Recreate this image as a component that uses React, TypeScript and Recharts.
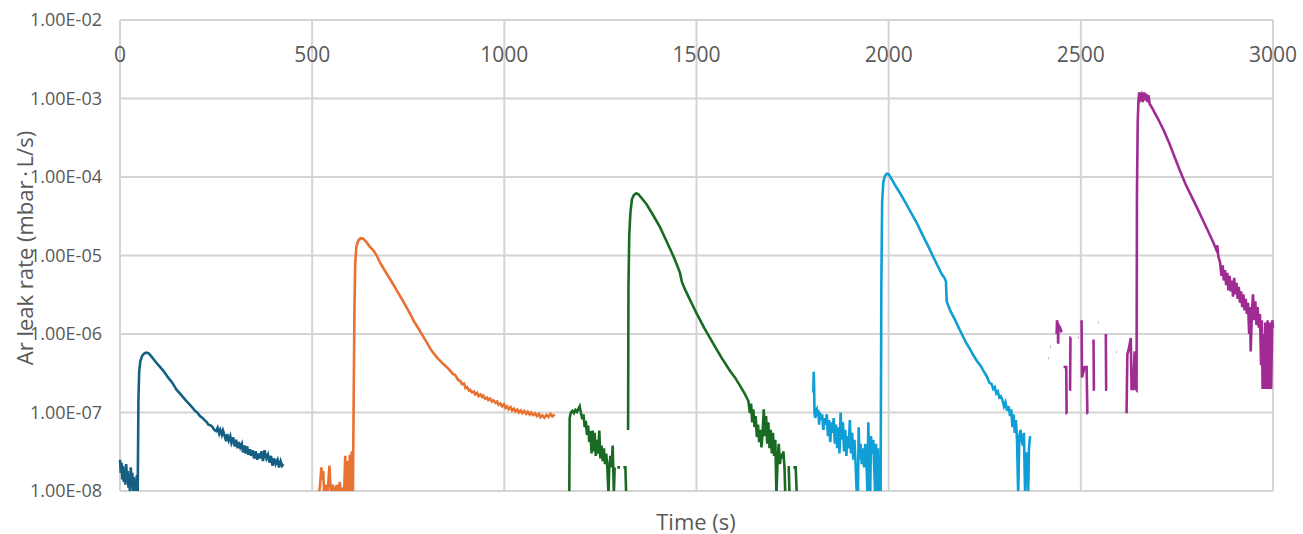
import React from "react";
import { LineChart, Line, XAxis, YAxis, CartesianGrid } from "recharts";

type Pt = [number, number | null];

// time ticks (s) on the top axis, decades on the log axis
const xTicks = [0, 500, 1000, 1500, 2000, 2500, 3000];
const yTicks = [1e-8, 1e-7, 1e-6, 1e-5, 1e-4, 1e-3, 1e-2];

// run 1 (teal)
const run1: Pt[] = [
  [0, 2.5e-8], [2, 1.7e-8], [4, 2.3e-8], [6, 1.4e-8], [8, 2.1e-8], [10, 1.3e-8], [12, 1.9e-8],
  [14, 1.2e-8], [16, 2.2e-8], [18, 1.5e-8], [20, 1.8e-8], [22, 1.1e-8], [24, 1.6e-8], [26, 9e-9],
  [28, 2.0e-8], [30, 1.3e-8], [32, 1.7e-8], [34, 1.0e-8], [36, 1.5e-8], [38, 9e-9], [40, 1.3e-8],
  [42, 1.1e-8], [44, 1.6e-8], [46, 9e-9], [48, 1.5e-7], [50, 3.4e-7], [53, 4.5e-7], [57, 5.2e-7],
  [62, 5.6e-7], [68, 5.8e-7], [74, 5.7e-7], [80, 5.3e-7], [90, 4.6e-7], [100, 4.0e-7], [113, 3.4e-7],
  [125, 2.8e-7], [136, 2.4e-7], [147, 1.95e-7], [158, 1.7e-7], [170, 1.45e-7], [182, 1.25e-7],
  [189, 1.15e-7], [195, 1.05e-7], [201, 1.0e-7], [208, 9.0e-8], [214, 8.6e-8], [220, 8.0e-8],
  [225, 7.6e-8], [230, 7.0e-8], [235, 6.9e-8], [240, 6.6e-8], [245, 6.0e-8], [250, 5.8e-8],
  [254, 6.4e-8], [258, 5.4e-8], [261, 6.0e-8], [265, 5.2e-8], [268, 5.9e-8], [273, 4.9e-8],
  [276, 4.3e-8], [279, 5.3e-8], [283, 4.4e-8], [287, 5.0e-8], [290, 4.1e-8], [295, 4.8e-8],
  [298, 3.7e-8], [302, 4.5e-8], [306, 3.5e-8], [309, 4.2e-8], [313, 3.6e-8], [317, 4.0e-8],
  [320, 3.1e-8], [324, 3.8e-8], [327, 3.0e-8], [331, 3.7e-8], [334, 2.9e-8], [338, 3.4e-8],
  [341, 2.8e-8], [345, 3.3e-8], [349, 2.6e-8], [353, 3.2e-8], [357, 2.5e-8], [361, 3.0e-8],
  [364, 2.6e-8], [368, 3.2e-8], [372, 2.4e-8], [376, 3.3e-8], [381, 2.6e-8], [385, 2.9e-8],
  [389, 2.3e-8], [393, 2.8e-8], [397, 2.1e-8], [401, 2.6e-8], [405, 2.2e-8], [410, 2.5e-8],
  [414, 2.0e-8], [418, 2.4e-8], [422, 2.1e-8], [425, 2.2e-8],
];

// run 2 (orange)
const run2: Pt[] = [
  [516, 9e-9], [520, 1.1e-8], [524, 2.0e-8], [526, 1.4e-8], [529, 1.8e-8], [531, 9e-9], [536, 1.2e-8],
  [540, 9e-9], [545, 2.1e-8], [547, 1.3e-8], [550, 9e-9], [553, 1.2e-8], [556, 1.1e-8], [559, 9e-9],
  [564, 1.2e-8], [567, 9e-9], [572, 1.3e-8], [575, 9e-9], [580, 1.1e-8], [583, 9e-9], [586, 2.8e-8],
  [588, 9e-9], [592, 2.4e-8], [594, 9e-9], [598, 2.9e-8], [600, 9e-9], [603, 3.2e-8], [606, 9e-9],
  [608, 1.5e-7], [610, 2.0e-6], [612, 8.0e-6], [615, 1.3e-5], [620, 1.55e-5], [626, 1.66e-5],
  [632, 1.65e-5], [640, 1.5e-5], [650, 1.3e-5], [660, 1.15e-5], [668, 1.0e-5], [676, 8.2e-6],
  [690, 6.3e-6], [705, 4.8e-6], [720, 3.6e-6], [735, 2.7e-6], [750, 2.0e-6], [765, 1.45e-6],
  [780, 1.1e-6], [795, 8.3e-7], [810, 6.2e-7], [825, 5.0e-7], [840, 4.2e-7], [855, 3.6e-7],
  [866, 3.1e-7], [872, 3.0e-7], [880, 2.6e-7], [886, 2.5e-7], [890, 2.3e-7], [895, 2.35e-7],
  [899, 2.05e-7], [903, 2.1e-7], [908, 1.9e-7], [911, 1.95e-7], [916, 1.8e-7], [921, 1.85e-7],
  [924, 1.7e-7], [929, 1.78e-7], [933, 1.62e-7], [938, 1.7e-7], [942, 1.58e-7], [945, 1.64e-7],
  [950, 1.5e-7], [955, 1.55e-7], [958, 1.44e-7], [963, 1.5e-7], [968, 1.38e-7], [972, 1.43e-7],
  [977, 1.33e-7], [981, 1.38e-7], [985, 1.26e-7], [990, 1.3e-7], [994, 1.2e-7], [999, 1.27e-7],
  [1003, 1.15e-7], [1007, 1.2e-7], [1011, 1.1e-7], [1016, 1.17e-7], [1020, 1.06e-7], [1025, 1.12e-7],
  [1029, 1.03e-7], [1034, 1.09e-7], [1038, 1.0e-7], [1043, 1.06e-7], [1047, 9.8e-8], [1052, 1.04e-7],
  [1057, 9.6e-8], [1061, 1.02e-7], [1066, 9.4e-8], [1070, 1.0e-7], [1075, 9.3e-8], [1080, 9.8e-8],
  [1085, 9.0e-8], [1090, 9.6e-8], [1094, 8.7e-8], [1099, 9.2e-8], [1104, 8.6e-8], [1110, 9.3e-8],
  [1115, 8.8e-8], [1120, 9.6e-8], [1125, 8.9e-8], [1131, 9.4e-8],
];

// run 3 (green)
const run3: Pt[] = [
  [1169, 9e-9], [1170, 8.5e-8], [1173, 1.0e-7], [1177, 1.05e-7], [1181, 9.8e-8], [1185, 1.08e-7],
  [1189, 1.02e-7], [1193, 1.12e-7], [1196, 1.2e-7], [1199, 1.0e-7], [1203, 8.2e-8], [1206, 9.5e-8],
  [1209, 6.5e-8], [1212, 7.8e-8], [1215, 5.2e-8], [1218, 6.8e-8], [1221, 4.2e-8], [1224, 5.8e-8],
  [1227, 3.0e-8], [1230, 5.9e-8], [1232, 3.2e-8], [1235, 5.5e-8], [1238, 2.8e-8], [1241, 4.5e-8],
  [1244, 3.0e-8], [1247, 5.9e-8], [1250, 2.6e-8], [1253, 3.8e-8], [1256, 2.4e-8], [1259, 3.5e-8],
  [1262, 2.2e-8], [1265, 3.0e-8], [1268, 2.0e-8], [1271, 9e-9], [1273, 2.0e-8], [1276, 2.8e-8],
  [1279, 2.0e-8], [1282, 3.8e-8], [1285, 9e-9], [1287, 2.0e-8], [1289, null], [1294, 2.0e-8],
  [1301, 2.0e-8], [1304, null], [1310, 2.0e-8], [1315, 2.0e-8], [1317, 9e-9], [1319, null],
  [1322, 6.0e-8], [1323, 4.0e-6], [1325, 1.8e-5], [1328, 3.5e-5], [1332, 5.2e-5], [1337, 5.9e-5],
  [1343, 6.2e-5], [1349, 6.0e-5], [1357, 5.4e-5], [1370, 4.5e-5], [1385, 3.4e-5], [1405, 2.3e-5],
  [1420, 1.6e-5], [1440, 9.8e-6], [1452, 7.0e-6], [1457, 6.0e-6], [1462, 4.6e-6], [1470, 3.7e-6],
  [1485, 2.6e-6], [1501, 1.8e-6], [1520, 1.2e-6], [1544, 7.5e-7], [1565, 5.0e-7], [1587, 3.4e-7],
  [1600, 2.8e-7], [1613, 2.2e-7], [1625, 1.75e-7], [1635, 1.4e-7], [1639, 9.8e-8], [1642, 1.3e-7],
  [1645, 7.5e-8], [1648, 1.1e-7], [1651, 6.5e-8], [1654, 9.0e-8], [1657, 4.9e-8], [1660, 7.0e-8],
  [1663, 4.2e-8], [1666, 6.0e-8], [1669, 3.6e-8], [1672, 5.5e-8], [1675, 1.1e-7], [1678, 5.0e-8],
  [1681, 9.0e-8], [1684, 4.0e-8], [1687, 7.5e-8], [1690, 3.5e-8], [1693, 6.0e-8], [1696, 3.0e-8],
  [1699, 5.5e-8], [1702, 2.8e-8], [1705, 4.5e-8], [1708, 9e-9], [1711, 2.5e-8], [1714, 4.0e-8],
  [1717, 2.2e-8], [1720, 3.0e-8], [1723, 2.6e-8], [1726, 3.2e-8], [1729, 2.0e-8], [1731, 9e-9],
  [1733, null], [1737, 2.0e-8], [1740, 2.0e-8], [1742, 9e-9], [1744, null], [1752, 2.0e-8],
  [1758, 2.0e-8], [1761, 9e-9],
];

// run 4 (blue)
const run4: Pt[] = [
  [1804, 1.8e-7], [1805, 3.3e-7], [1806, 2.2e-7], [1807, 1.0e-7], [1809, 8.5e-8], [1811, 1.05e-7],
  [1813, 1.1e-7], [1815, 9.0e-8], [1817, 1.08e-7], [1819, 7.0e-8], [1821, 1.0e-7], [1824, 8.0e-8],
  [1827, 9.5e-8], [1830, 6.0e-8], [1833, 8.5e-8], [1836, 7.0e-8], [1839, 9.5e-8], [1842, 5.0e-8],
  [1845, 8.0e-8], [1848, 4.2e-8], [1851, 7.5e-8], [1854, 5.5e-8], [1857, 8.5e-8], [1860, 4.0e-8],
  [1863, 7.0e-8], [1866, 3.5e-8], [1869, 6.5e-8], [1872, 3.0e-8], [1875, 1.0e-7], [1878, 4.5e-8],
  [1881, 7.5e-8], [1884, 3.2e-8], [1887, 6.0e-8], [1890, 2.8e-8], [1893, 5.0e-8], [1896, 3.5e-8],
  [1899, 8.0e-8], [1902, 3.0e-8], [1905, 5.5e-8], [1908, 2.5e-8], [1911, 4.5e-8], [1914, 2.2e-8],
  [1917, 9e-9], [1920, 9e-9], [1922, 6.5e-8], [1924, 2.5e-8], [1927, 4.0e-8], [1930, 2.2e-8],
  [1933, 3.5e-8], [1936, 2.0e-8], [1939, 4.0e-8], [1942, 2.5e-8], [1945, 9e-9], [1947, 7.5e-8],
  [1949, 2.5e-8], [1952, 9e-9], [1954, 5.0e-8], [1957, 3.0e-8], [1960, 4.5e-8], [1962, 2.2e-8],
  [1965, 9e-9], [1967, 4.0e-8], [1970, 9e-9], [1972, 3.5e-8], [1975, 9e-9], [1977, 2.5e-8],
  [1979, 9e-9], [1981, 4.5e-6], [1983, 4.8e-5], [1986, 8.5e-5], [1990, 1.03e-4], [1995, 1.1e-4],
  [2000, 1.08e-4], [2010, 9.0e-5], [2020, 7.4e-5], [2030, 6.2e-5], [2045, 4.6e-5], [2060, 3.4e-5],
  [2073, 2.6e-5], [2090, 1.75e-5], [2105, 1.25e-5], [2116, 9.6e-6], [2128, 7.3e-6], [2138, 5.8e-6],
  [2145, 5.2e-6], [2149, 4.7e-6], [2151, 2.6e-6], [2160, 2.0e-6], [2173, 1.5e-6], [2186, 1.1e-6],
  [2200, 8.0e-7], [2210, 6.6e-7], [2220, 5.4e-7], [2230, 4.5e-7], [2240, 3.9e-7], [2248, 3.3e-7],
  [2255, 2.9e-7], [2262, 2.4e-7], [2268, 2.3e-7], [2272, 2.0e-7], [2276, 2.1e-7], [2280, 1.75e-7],
  [2284, 1.85e-7], [2288, 1.55e-7], [2292, 1.6e-7], [2296, 1.45e-7], [2300, 1.2e-7], [2304, 1.35e-7],
  [2308, 1.05e-7], [2312, 1.2e-7], [2316, 9.0e-8], [2319, 1.1e-7], [2322, 6.5e-8], [2325, 9.5e-8],
  [2328, 5.5e-8], [2331, 8.0e-8], [2334, 4.5e-8], [2337, 9e-9], [2340, 5.0e-8], [2343, 6.0e-8],
  [2346, 4.5e-8], [2349, 3.8e-8], [2352, 5.5e-8], [2355, 9e-9], [2357, 3.0e-8], [2361, 3.0e-8],
  [2363, 9e-9], [2365, 3.5e-8], [2368, 5.0e-8],
];

// run 5 (magenta)
const run5: Pt[] = [
  [2415, 4.9e-7], [2416, 4.9e-7], [2417, null], [2421, 6.9e-7], [2422, 6.9e-7], [2423, null],
  [2437, 1.0e-6], [2438, 1.5e-6], [2440, 1.3e-6], [2441, 7.5e-7], [2442, 1.3e-6], [2446, 1.2e-6],
  [2450, 1.05e-6], [2451, null], [2455, 3.8e-7], [2462, 3.8e-7], [2463, 9.8e-8], [2464, 9.8e-8],
  [2465, null], [2470, 1.95e-7], [2472, 1.95e-7], [2473, 9.0e-7], [2474, 9.0e-7], [2475, null],
  [2494, 9.0e-7], [2495, 9.0e-7], [2496, null], [2502, 1.5e-6], [2503, 2.8e-7], [2510, 3.8e-7],
  [2515, 3.8e-7], [2517, 9.8e-8], [2518, 9.8e-8], [2519, null], [2533, 8.5e-7], [2534, 1.95e-7],
  [2536, 1.95e-7], [2537, null], [2546, 1.4e-6], [2547, 1.4e-6], [2548, null], [2565, 1.0e-6],
  [2566, 1.95e-7], [2568, 1.95e-7], [2569, null], [2593, 5.9e-7], [2594, 5.9e-7], [2595, null],
  [2619, 9.8e-8], [2621, 5.5e-7], [2625, 6.5e-7], [2630, 8.9e-7], [2632, 2.0e-7], [2636, 2.0e-7],
  [2640, 6.0e-7], [2643, 2.0e-7], [2645, 1.95e-7], [2646, 6.0e-5], [2648, 5.0e-4], [2650, 9.5e-4],
  [2652, 1.2e-3], [2655, 1.0e-3], [2658, 1.1e-3], [2661, 9.0e-4], [2664, 1.2e-3], [2667, 9.5e-4],
  [2670, 1.15e-3], [2673, 9.0e-4], [2676, 1.1e-3], [2679, 8.5e-4], [2684, 7.8e-4], [2700, 5.6e-4],
  [2715, 4.0e-4], [2730, 2.7e-4], [2745, 1.75e-4], [2758, 1.2e-4], [2772, 8.2e-5], [2787, 5.8e-5],
  [2801, 4.2e-5], [2815, 3.0e-5], [2830, 2.1e-5], [2845, 1.45e-5], [2852, 1.2e-5], [2855, 1.35e-5],
  [2858, 9.5e-6], [2862, 8.3e-6], [2866, 5.5e-6], [2869, 7.5e-6], [2872, 4.8e-6], [2875, 6.5e-6],
  [2878, 4.2e-6], [2881, 6.0e-6], [2884, 3.6e-6], [2887, 5.5e-6], [2890, 3.5e-6], [2893, 4.8e-6],
  [2896, 3.0e-6], [2899, 5.2e-6], [2902, 3.2e-6], [2905, 4.5e-6], [2908, 2.8e-6], [2911, 4.0e-6],
  [2914, 2.5e-6], [2917, 3.5e-6], [2920, 2.2e-6], [2923, 3.2e-6], [2926, 2.0e-6], [2929, 2.8e-6],
  [2932, 1.8e-6], [2935, 2.5e-6], [2938, 1.0e-6], [2940, 2.2e-6], [2942, 6.0e-7], [2945, 1.8e-6],
  [2948, 3.2e-6], [2951, 1.5e-6], [2954, 2.6e-6], [2957, 1.3e-6], [2960, 2.2e-6], [2963, 1.2e-6],
  [2966, 1.8e-6], [2969, 4.0e-7], [2971, 1.5e-6], [2973, 2.0e-7], [2975, 1.0e-6], [2977, 2.0e-7],
  [2980, 1.4e-6], [2983, 2.0e-7], [2986, 1.5e-6], [2989, 2.0e-7], [2992, 1.4e-6], [2995, 2.0e-7],
  [2998, 1.5e-6], [3000, 1.2e-6],
];

const runs = [
  { name: "run1", pts: run1, color: "#156082" },
  { name: "run2", pts: run2, color: "#E97132" },
  { name: "run3", pts: run3, color: "#196B24" },
  { name: "run4", pts: run4, color: "#0F9ED5" },
  { name: "run5", pts: run5, color: "#A02B93" },
];

const toRows = (pts: Pt[]) => pts.map(([t, rate]) => ({ t, rate }));

// 1e-8 -> "1.00E-08"
const sci = (v: number) => {
  const e = Math.round(Math.log10(v));
  return `1.00E${e < 0 ? "-" : "+"}${String(Math.abs(e)).padStart(2, "0")}`;
};

const TEXT = "#595959";

// top axis labels sit inside the plot, below the top border
const TopTick = (props: any) => {
  const { x, y, payload } = props;
  return (
    <text x={x} y={y + 42} textAnchor="middle" fill={TEXT} fontSize={21}>
      {payload.value}
    </text>
  );
};

export default function App() {
  return (
    <div
      style={{
        position: "absolute",
        left: 0,
        top: 0,
        width: 1303,
        height: 534,
        background: "#fff",
        fontFamily: "'Open Sans', sans-serif",
      }}
    >
      <LineChart width={1303} height={534} margin={{ top: 0, right: 30, bottom: 43, left: 0 }}>
        <CartesianGrid stroke="#d4d4d4" strokeWidth={2} />
        <XAxis
          dataKey="t"
          type="number"
          orientation="top"
          domain={[0, 3000]}
          ticks={xTicks}
          height={20}
          axisLine={false}
          tickLine={false}
          tickSize={0}
          tickMargin={0}
          interval={0}
          tick={(p: any) => <TopTick {...p} />}
          allowDuplicatedCategory={false}
        />
        <YAxis
          type="number"
          scale="log"
          domain={[1e-8, 1e-2]}
          ticks={yTicks}
          allowDataOverflow
          width={120}
          axisLine={false}
          tickLine={false}
          tickSize={0}
          tickMargin={18}
          interval={0}
          tickFormatter={sci}
          tick={{ fill: TEXT, fontSize: 18 }}
        />
        {runs.map((r) => (
          <Line
            key={r.name}
            data={toRows(r.pts)}
            dataKey="rate"
            type="linear"
            stroke={r.color}
            strokeWidth={2.6}
            dot={false}
            connectNulls={false}
            isAnimationActive={false}
          />
        ))}
      </LineChart>
      <div
        style={{
          position: "absolute",
          left: 24,
          top: 248,
          transform: "translate(-50%, -50%) rotate(-90deg)",
          whiteSpace: "nowrap",
          color: TEXT,
          fontSize: 22,
        }}
      >
        Ar leak rate (mbar{"\u2009·\u2009"}L/s)
      </div>
      <div
        style={{
          position: "absolute",
          left: 696,
          top: 521,
          transform: "translate(-50%, -50%)",
          whiteSpace: "nowrap",
          color: TEXT,
          fontSize: 22,
        }}
      >
        Time (s)
      </div>
    </div>
  );
}
